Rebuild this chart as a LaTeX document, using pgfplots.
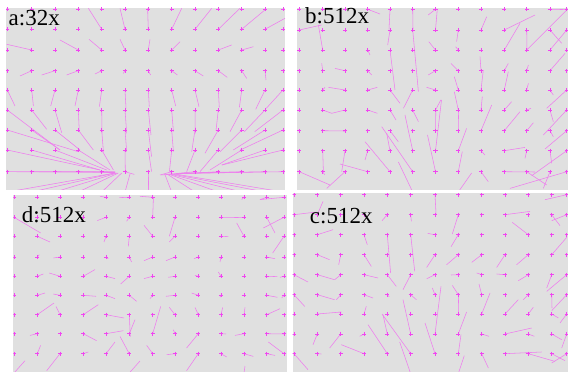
\documentclass[border=0pt]{standalone}
\usepackage{pgfplots}
\pgfplotsset{compat=1.18}
\usepackage{pgfplotstable}
\usepackage{fontspec}
\setmainfont{Liberation Serif}
\definecolor{bg}{RGB}{224,224,224}
\definecolor{vec}{RGB}{238,125,238}
\definecolor{crs}{RGB}{240,70,240}
\def\zerouv{0/0}
\pgfplotsset{panel/.style={scale only axis, y dir=reverse, axis line style={draw=none}, ticks=none,
  axis background/.style={fill=bg}, clip=true, clip marker paths=true},
  nozero/.style={unbounded coords=discard, filter discard warning=false,
  x filter/.code={\edef\tmpuv{\thisrow{u}/\thisrow{v}}\ifx\tmpuv\zerouv\def\pgfmathresult{inf}\fi}}}
\newcommand{\lab}[3]{\node[anchor=base west, inner sep=0pt, font=\fontsize{23}{27}\selectfont] at (axis cs:#1,#2) {#3};}
\newcommand{\field}[1]{%
  \addplot[vec, line width=0.55pt, nozero, quiver={u=\thisrow{u},v=\thisrow{v}}] table[x=x,y=y]{#1};
  \addplot[only marks, mark=+, mark size=2.1pt, crs, mark options={line width=0.5pt}] table[x=x,y=y]{#1};}

\pgfplotstableread[row sep=\\]{
x y u v\\
7.3 9.3 0 0\\ 31.7 9.3 0 0\\ 55 9.3 0 0\\ 78.3 9.3 0 0\\ 101.7 9.3 0 0\\ 125 9.3 0 0\\ 148.3 9.3 0 0\\ 171.7 9.3 0 0\\ 195 9.3 0 0\\ 218.3 9.3 0 0\\ 241.7 9.3 0 0\\ 265 9.3 0 0\\ 283 9.3 0 0\\
7.3 29.3 0 0\\ 31.7 29.3 0 0\\ 55 29.3 0 0\\ 78.3 29.3 0 0\\ 101.7 29.3 -13.3 -21\\ 125 29.3 -5 -21\\ 148.3 29.3 -0.7 -21\\ 171.7 29.3 10 -21\\ 195 29.3 16.7 -21\\ 218.3 29.3 21.7 -21\\ 241.7 29.3 24 -20\\ 265 29.3 20 -11\\ 283 29.3 0 0\\
7.3 50 0 0\\ 31.7 50 -25 -5.7\\ 55 50 0 0\\ 78.3 50 -18.3 -10\\ 101.7 50 -12.7 -10.7\\ 125 50 -5 -10.7\\ 148.3 50 1.7 -10.7\\ 171.7 50 8.3 -8.3\\ 195 50 0 0\\ 218.3 50 13.3 -5\\ 241.7 50 11.7 -3.3\\ 265 50 0 0\\ 283 50 0 0\\
7.3 70.7 0 0\\ 31.7 70.7 -11.7 5.3\\ 55 70.7 -13.3 4.3\\ 78.3 70.7 -11.7 4.3\\ 101.7 70.7 -6.7 3.3\\ 125 70.7 -1.7 2.7\\ 148.3 70.7 2.3 4.3\\ 171.7 70.7 5.7 4.3\\ 195 70.7 8.3 5.3\\ 218.3 70.7 9 6.7\\ 241.7 70.7 5 7.7\\ 265 70.7 1 9.3\\ 283 70.7 0 0\\
7.3 90 7.7 16\\ 31.7 90 1.7 16\\ 55 90 -4.3 16\\ 78.3 90 -3.3 16\\ 101.7 90 -2.3 16.7\\ 125 90 1 18.3\\ 148.3 90 1 16.7\\ 171.7 90 4 16\\ 195 90 4 16.7\\ 218.3 90 1 17.3\\ 241.7 90 -2.3 17.3\\ 265 90 -9.3 19.3\\ 283 90 -16.7 18.3\\
7.3 110 52.7 40\\ 31.7 110 15 19.3\\ 55 110 6.7 22.7\\ 78.3 110 1 21.7\\ 101.7 110 0.3 22.7\\ 125 110 1.7 23.3\\ 148.3 110 2.7 25\\ 171.7 110 1.7 21.7\\ 195 110 0.3 23.3\\ 218.3 110 -2.3 20.7\\ 241.7 110 -11.7 21.7\\ 265 110 -20.7 21.7\\ 283 110 -28.3 21.7\\
7.3 130 71 21.7\\ 31.7 130 28.3 20\\ 55 130 25 20\\ 78.3 130 15 20\\ 101.7 130 1.7 21.7\\ 125 130 1.7 21.7\\ 148.3 130 3.3 26.7\\ 171.7 130 1.7 21.7\\ 195 130 -3.3 21.7\\ 218.3 130 -13.3 23.3\\ 241.7 130 -21.7 21.7\\ 265 130 -31.7 20\\ 283 130 -42.7 20\\
7.3 150 92.7 20\\ 31.7 150 68.3 20\\ 55 150 51.7 20\\ 78.3 150 31.7 20\\ 101.7 150 11.7 20\\ 125 150 0.3 20\\ 148.3 150 3.3 21.7\\ 171.7 150 -2.3 21.7\\ 195 150 -8.3 21.7\\ 218.3 150 -18.3 21.7\\ 241.7 150 -31.7 20\\ 265 150 -43.3 15\\ 283 150 -61 15\\
7.3 171.7 107.7 0.3\\ 31.7 171.7 83.3 0.3\\ 55 171.7 60 0.7\\ 78.3 171.7 36.7 0.7\\ 101.7 171.7 13.3 0.7\\ 125 171.7 9.3 2.7\\ 148.3 171.7 0.3 18\\ 171.7 171.7 -11.7 3.3\\ 195 171.7 -33.3 3.3\\ 218.3 171.7 -41.7 2.3\\ 241.7 171.7 -65 1.7\\ 265 171.7 -85 1.7\\ 283 171.7 -96.7 1.7\\
7.3 192 107.7 -19\\ 31.7 192 83 -19\\ 55 192 62 -19\\ 78.3 192 40 -19\\ 101.7 192 20 -19\\ 125 192 5 -18\\ 148.3 192 0.3 -15\\ 171.7 192 -7 -18\\ 195 192 -28 -18\\ 218.3 192 -50 -18\\ 241.7 192 -72 -18\\ 265 192 -93 -18\\ 283 192 -108 -18\\
}\tabA

\pgfplotstableread[row sep=\\]{
x y u v\\
299.3 9.3 0 0\\ 322.7 9.3 0 0\\ 345 9.3 0 0\\ 367.7 9.3 12.3 4.7\\ 390 9.3 -1 20\\ 412.7 9.3 0.3 20\\ 435.5 9.3 -7.3 5.7\\ 458.3 9.3 0 0\\ 481 9.3 0 0\\ 504.3 9.3 0 0\\ 526.7 9.3 0 0\\ 550 9.3 16.7 0.3\\ 566.7 9.3 0 0\\
299.3 30 22.3 -5\\ 322.7 30 0 0\\ 345 30 0 0\\ 367.7 30 0 0\\ 390 30 -2.3 15\\ 412.7 30 5.7 61.7\\ 435.5 30 1.7 -20\\ 458.3 30 -1.7 11.7\\ 481 30 5.7 -13.3\\ 504.3 30 30.7 -15\\ 526.7 30 0.3 20\\ 550 30 11.7 13.3\\ 566.7 30 0 0\\
299.3 50 0 0\\ 322.7 50 -4.3 -25\\ 345 50 0 0\\ 367.7 50 2.3 5\\ 390 50 5 40\\ 412.7 50 0 0\\ 435.5 50 -6.7 -8.3\\ 458.3 50 -2.7 -3.3\\ 481 50 0 0\\ 504.3 50 15.7 -26.7\\ 526.7 50 40 -40\\ 550 50 16.7 -20\\ 566.7 50 0 0\\
299.3 70.7 0 0\\ 322.7 70.7 -1 -7.3\\ 345 70.7 -10 -2.3\\ 367.7 70.7 4 4.3\\ 390 70.7 0 0\\ 412.7 70.7 0 0\\ 435.5 70.7 -7.3 4.3\\ 458.3 70.7 -7.3 -7.3\\ 481 70.7 -1 -14\\ 504.3 70.7 4 -7.3\\ 526.7 70.7 1.7 -5.7\\ 550 70.7 15 -17.3\\ 566.7 70.7 0 0\\
299.3 90 0 0\\ 322.7 90 2.3 -2.7\\ 345 90 -16.7 -2.7\\ 367.7 90 9.7 -2.7\\ 390 90 10 13.3\\ 412.7 90 -9.3 18.3\\ 435.5 90 -9 -2.7\\ 458.3 90 -4 -13.3\\ 481 90 2.3 -20\\ 504.3 90 4 -18.3\\ 526.7 90 1.7 -6.7\\ 550 90 3.3 5\\ 566.7 90 -20 18.3\\
299.3 110 0 0\\ 322.7 110 9 3.3\\ 345 110 -13.3 3.3\\ 367.7 110 9.7 3.3\\ 390 110 6 10\\ 412.7 110 5.7 11.7\\ 435.5 110 5.3 -10\\ 458.3 110 -4 -18.3\\ 481 110 1.3 -13.3\\ 504.3 110 7.3 -8.3\\ 526.7 110 4.3 -1.7\\ 550 110 3.3 11.7\\ 566.7 110 -23.3 25\\
299.3 130.7 0 0\\ 322.7 130.7 22.3 0.3\\ 345 130.7 -2 0.3\\ 367.7 130.7 0 0\\ 390 130.7 8.3 11\\ 412.7 130.7 0 0\\ 435.5 130.7 0.3 -20\\ 458.3 130.7 0.3 -20.7\\ 481 130.7 10.7 -25.7\\ 504.3 130.7 15.7 -19\\ 526.7 130.7 6.7 -8\\ 550 130.7 3.3 6\\ 566.7 130.7 -21.7 18.3\\
299.3 150.7 0 0\\ 322.7 150.7 0.7 21\\ 345 150.7 -3.3 21\\ 367.7 150.7 -2.7 9.3\\ 390 150.7 -3.3 -17.3\\ 412.7 150.7 -7.7 -35.7\\ 435.5 150.7 6 -50.7\\ 458.3 150.7 8.3 -22.3\\ 481 150.7 4 4.3\\ 504.3 150.7 20.7 -3.3\\ 526.7 150.7 -1.7 7.7\\ 550 150.7 1.7 12.7\\ 566.7 150.7 -35 25\\
299.3 171.7 30.7 13.3\\ 322.7 171.7 2 3\\ 345 171.7 -18.3 16.7\\ 367.7 171.7 -27.7 -7.7\\ 390 171.7 -25 -30\\ 412.7 171.7 -31 -45\\ 435.5 171.7 -8 -36.7\\ 458.3 171.7 4 -20\\ 481 171.7 7.3 10\\ 504.3 171.7 30.7 0.3\\ 526.7 171.7 20 13.3\\ 550 171.7 -6.7 16.7\\ 566.7 171.7 -56.7 16.7\\
299.3 192 0 0\\ 322.7 192 0 0\\ 345 192 0 0\\ 367.7 192 0 0\\ 390 192 0 0\\ 412.7 192 -14.3 -30\\ 435.5 192 0 0\\ 458.3 192 13.3 -19\\ 481 192 0 0\\ 504.3 192 0 0\\ 526.7 192 0 0\\ 550 192 0 0\\ 566.7 192 0 0\\
}\tabB

\pgfplotstableread[row sep=\\]{
x y u v\\
14 197.3 0 0\\ 37.3 197.3 0 0\\ 60 197.3 0 0\\ 83.3 197.3 0 0\\ 106 197.3 -6 -1\\ 129.3 197.3 -10 0.3\\ 152.7 197.3 -12.7 -1\\ 175 197.3 0 0\\ 198.3 197.3 0 0\\ 221 197.3 0 0\\ 244 197.3 -2.3 2.3\\ 266.7 197.3 -6.7 2.3\\ 284 197.3 -24 2.3\\
14 217.3 26.7 15.7\\ 37.3 217.3 0 0\\ 60 217.3 0 0\\ 83.3 217.3 0 0\\ 106 217.3 -8.7 3.3\\ 129.3 217.3 -2.7 4\\ 152.7 217.3 0.7 -19.3\\ 175 217.3 -5.7 19\\ 198.3 217.3 0 0\\ 221 217.3 23 0.3\\ 244 217.3 0 0\\ 266.7 217.3 8.3 15.7\\ 284 217.3 -20.7 10.7\\
14 236.3 0 0\\ 37.3 236.3 12.7 5.7\\ 60 236.3 0 0\\ 83.3 236.3 0 0\\ 106 236.3 -2 5.7\\ 129.3 236.3 -1 10\\ 152.7 236.3 -8.7 -11\\ 175 236.3 -5.7 5.7\\ 198.3 236.3 0 0\\ 221 236.3 7.3 0.3\\ 244 236.3 -7.3 -13.3\\ 266.7 236.3 0 0\\ 284 236.3 -11.3 16.7\\
14 257 0 0\\ 37.3 257 2 -2.3\\ 60 257 -6.7 1\\ 83.3 257 0 0\\ 106 257 2.3 1.7\\ 129.3 257 2.3 5\\ 152.7 257 -8.7 3.7\\ 175 257 -9 3.7\\ 198.3 257 -4.3 1.7\\ 221 257 -1 5\\ 244 257 0 0\\ 266.7 257 8.3 1.7\\ 284 257 0 0\\
14 276.3 0 0\\ 37.3 276.3 6 -2.3\\ 60 276.3 -10.7 -3.3\\ 83.3 276.3 11.7 -6.7\\ 106 276.3 9 2.3\\ 129.3 276.3 -8.7 7.7\\ 152.7 276.3 -8.7 2.3\\ 175 276.3 -6.7 1\\ 198.3 276.3 -3.3 -1\\ 221 276.3 -2.7 -4.3\\ 244 276.3 0 0\\ 266.7 276.3 10.7 0.3\\ 284 276.3 -4 1\\
14 295.3 0 0\\ 37.3 295.3 7.7 -2.3\\ 60 295.3 -6.7 -1.3\\ 83.3 295.3 12.7 1\\ 106 295.3 9 3.3\\ 129.3 295.3 7.3 6\\ 152.7 295.3 -2.7 3.3\\ 175 295.3 -9 1\\ 198.3 295.3 -6.7 -2.3\\ 221 295.3 -1 2\\ 244 295.3 0 0\\ 266.7 295.3 10.7 2\\ 284 295.3 -2.3 2.7\\
14 314.7 0 0\\ 37.3 314.7 16.7 -11.7\\ 60 314.7 -4 -8.3\\ 83.3 314.7 15 -10\\ 106 314.7 18 3.3\\ 129.3 314.7 1 22\\ 152.7 314.7 0 0\\ 175 314.7 -5.7 -7.3\\ 198.3 314.7 -3.3 -7.3\\ 221 314.7 1.7 -7.3\\ 244 314.7 1 -7.3\\ 266.7 314.7 13.3 -6\\ 284 314.7 0 0\\
14 333.7 0 0\\ 37.3 333.7 -7.3 1.7\\ 60 333.7 0 0\\ 83.3 333.7 13.3 7\\ 106 333.7 17.3 -3\\ 129.3 333.7 5.7 -14\\ 152.7 333.7 8 -27.3\\ 175 333.7 -1.7 -4\\ 198.3 333.7 -11.7 14.3\\ 221 333.7 5 0.3\\ 244 333.7 -9 1.7\\ 266.7 333.7 17.3 0.3\\ 284 333.7 0 0\\
14 353.7 0 0\\ 37.3 353.7 3.3 -8.3\\ 60 353.7 -13.3 17\\ 83.3 353.7 5 -1.7\\ 106 353.7 9 -11.7\\ 129.3 353.7 -9.3 -17.3\\ 152.7 353.7 -6 -8.3\\ 175 353.7 -8.3 1\\ 198.3 353.7 -11.7 17\\ 221 353.7 5.7 3.3\\ 244 353.7 9.3 2.7\\ 266.7 353.7 8.3 1.7\\ 284 353.7 -15.7 -11.7\\
14 373 11 -12.3\\ 37.3 373 0 0\\ 60 373 0 0\\ 83.3 373 0 0\\ 106 373 0 0\\ 129.3 373 10.7 -12\\ 152.7 373 0 0\\ 175 373 0 0\\ 198.3 373 0 0\\ 221 373 0 0\\ 244 373 1 -7\\ 266.7 373 0 0\\ 284 373 0 0\\
}\tabD

\pgfplotstableread[row sep=\\]{
x y u v\\
294 194.7 0 0\\ 317.3 194.7 0 0\\ 340.7 194.7 0 0\\ 364 194.7 0 0\\ 387.3 194.7 0 0\\ 410.7 194.7 0 0\\ 435 194.7 1 19\\ 458.3 194.7 0 0\\ 481.7 194.7 0 0\\ 505 194.7 0 0\\ 528.3 194.7 0 0\\ 551.7 194.7 0 0\\ 566.7 194.7 -21.7 5\\
294 214.7 22.3 -2.7\\ 317.3 214.7 5.7 -13.3\\ 340.7 214.7 0 0\\ 364 214.7 0 0\\ 387.3 214.7 -5.3 6\\ 410.7 214.7 0.7 6.7\\ 435 214.7 0 0\\ 458.3 214.7 -6 19.3\\ 481.7 214.7 0 0\\ 505 214.7 25 -3.3\\ 528.3 214.7 0 0\\ 551.7 214.7 8.3 11\\ 566.7 214.7 -15 6\\
294 234.7 0 0\\ 317.3 234.7 15.7 -5\\ 340.7 234.7 0 0\\ 364 234.7 3.3 10\\ 387.3 234.7 3.3 38.3\\ 410.7 234.7 4 36.7\\ 435 234.7 -7.3 -1.3\\ 458.3 234.7 -7.3 12\\ 481.7 234.7 0 0\\ 505 234.7 0 0\\ 528.3 234.7 -16 -12.3\\ 551.7 234.7 0 0\\ 566.7 234.7 0 0\\
294 254.7 0 0\\ 317.3 254.7 12.3 5\\ 340.7 254.7 -2 10\\ 364 254.7 7.3 11.7\\ 387.3 254.7 0 0\\ 410.7 254.7 0 0\\ 435 254.7 -8.3 12.7\\ 458.3 254.7 -11.7 10\\ 481.7 254.7 -10 7.7\\ 505 254.7 -8.3 12.7\\ 528.3 254.7 -11.7 10\\ 551.7 254.7 15 -17.3\\ 566.7 254.7 0 0\\
294 274.7 14 7.3\\ 317.3 274.7 17.3 5\\ 340.7 274.7 -6 5\\ 364 274.7 14 3.3\\ 387.3 274.7 9 11.7\\ 410.7 274.7 -7.7 15\\ 435 274.7 -8.3 4\\ 458.3 274.7 -7.3 0.3\\ 481.7 274.7 -5 -1.7\\ 505 274.7 -8.3 -0.7\\ 528.3 274.7 -10 6\\ 551.7 274.7 -5 13.3\\ 566.7 274.7 -20 16.7\\
294 294.7 10.7 11.7\\ 317.3 294.7 17.3 5\\ 340.7 294.7 -4.3 5\\ 364 294.7 9 3.3\\ 387.3 294.7 2 2\\ 410.7 294.7 5.7 5\\ 435 294.7 -2.7 -6.7\\ 458.3 294.7 -6 -9.3\\ 481.7 294.7 -2.7 -10.7\\ 505 294.7 0 0\\ 528.3 294.7 -5 5\\ 551.7 294.7 0.3 13.3\\ 566.7 294.7 -15 16\\
294 314 0 0\\ 317.3 314 24 -2\\ 340.7 314 -1 -2\\ 364 314 2.3 -7.7\\ 387.3 314 0 0\\ 410.7 314 0 0\\ 435 314 0 0\\ 458.3 314 0.3 -19.3\\ 481.7 314 8.3 -21\\ 505 314 13.3 -14.3\\ 528.3 314 5 -6.7\\ 551.7 314 6.7 4\\ 566.7 314 -6.7 9\\
294 334 0 0\\ 317.3 334 -4.3 10.7\\ 340.7 334 -11 14\\ 364 334 -4.3 2.3\\ 387.3 334 -4.3 -19.3\\ 410.7 334 -7.7 -34.3\\ 435 334 6 -47.7\\ 458.3 334 8.3 -22\\ 481.7 334 7.3 2.3\\ 505 334 26.7 -6\\ 528.3 334 6 2.3\\ 551.7 334 10 5.7\\ 566.7 334 -5 14\\
294 353.7 14 16\\ 317.3 353.7 4 0.3\\ 340.7 353.7 0.3 -2.3\\ 364 353.7 -22.7 -9\\ 387.3 353.7 -19.3 -29\\ 410.7 353.7 -28.7 -39.7\\ 435 353.7 -10 -30.7\\ 458.3 353.7 2.7 -19\\ 481.7 353.7 6.7 14.3\\ 505 353.7 36.7 -1.7\\ 528.3 353.7 26.7 7.7\\ 551.7 353.7 13.3 7\\ 566.7 353.7 -15 9.3\\
294 373.7 0 0\\ 317.3 373.7 0 0\\ 340.7 373.7 0 0\\ 364 373.7 0 0\\ 387.3 373.7 0 0\\ 410.7 373.7 -11 -31.7\\ 435 373.7 0 0\\ 458.3 373.7 6 -18\\ 481.7 373.7 0 0\\ 505 373.7 0 0\\ 528.3 373.7 0 0\\ 551.7 373.7 0 0\\ 566.7 373.7 0 0\\
}\tabC

\begin{document}
\begin{tikzpicture}
\path[use as bounding box, fill=white] (0,0) rectangle (568pt,372pt);
% panel a
\begin{axis}[panel, at={(6pt,182pt)}, anchor=south west, width=279pt, height=182pt,
  xmin=6, xmax=285, ymin=8, ymax=190]
\field{\tabA}
\lab{8.5}{26}{a:32x}
\end{axis}
% panel b
\begin{axis}[panel, at={(297pt,182pt)}, anchor=south west, width=271pt, height=182pt,
  xmin=297, xmax=568, ymin=8, ymax=190]
\field{\tabB}
\lab{305}{24}{b:512x}
\end{axis}
% panel d
\begin{axis}[panel, at={(13.3pt,0pt)}, anchor=south west, width=273.4pt, height=176.5pt,
  xmin=13.3, xmax=286.7, ymin=195.5, ymax=372]
\field{\tabD}
\lab{21.7}{222.5}{d:512x}
\end{axis}
% panel c
\begin{axis}[panel, at={(292.7pt,0pt)}, anchor=south west, width=275.3pt, height=178.5pt,
  xmin=292.7, xmax=568, ymin=193.5, ymax=372]
\field{\tabC}
\lab{309.7}{223.7}{c:512x}
\end{axis}
\end{tikzpicture}
\end{document}
